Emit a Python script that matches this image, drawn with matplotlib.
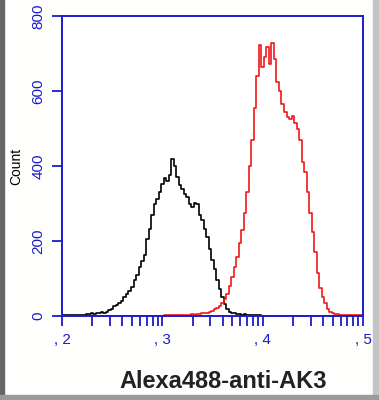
import matplotlib.pyplot as plt
import numpy as np
from matplotlib.patches import Rectangle

plt.rcParams['font.family'] = ['Liberation Sans', 'DejaVu Sans']

# channel positions in decades (log10 of fluorescence), 0.025 decade per channel
channel_log = np.round(np.arange(2.0, 5.0001, 0.025), 3)

# isotype / unstained control (black)
control_counts = [
    2, 2, 2, 2, 2, 2, 3, 2, 3, 4,
    5, 6, 8, 6, 9, 7, 11, 8, 10, 16,
    20, 26, 30, 34, 40, 52, 60, 68, 78, 95,
    110, 132, 148, 162, 205, 232, 270, 298, 312, 330,
    352, 368, 360, 375, 420, 400, 372, 350, 338, 325,
    318, 300, 290, 302, 298, 270, 255, 232, 210, 180,
    150, 125, 95, 72, 50, 32, 18, 11, 8, 9,
    6, 5, 4, 5, 3, 3, 2, 2, 2, 2,
    1, 1, 1, 1, 1, 1, 1, 1, 0, 0,
    0, 0, 0, 0, 0, 0, 0, 0, 0, 0,
    0, 0, 0, 0, 0, 0, 0, 0, 0, 0,
    0, 0, 0, 0, 0, 0, 0, 0, 0, 0,
    0,
]

# Alexa488-anti-AK3 stained (red)
stained_counts = [
    0, 0, 0, 0, 0, 0, 0, 0, 0, 0,
    0, 0, 0, 0, 0, 0, 0, 0, 0, 0,
    0, 0, 0, 0, 0, 0, 0, 0, 0, 0,
    0, 0, 0, 0, 0, 0, 1, 1, 1, 1,
    1, 2, 2, 3, 3, 2, 3, 3, 4, 3,
    4, 4, 5, 4, 5, 6, 7, 8, 9, 11,
    14, 18, 22, 27, 35, 45, 60, 80, 104, 130,
    157, 195, 229, 275, 330, 400, 469, 555, 640, 723,
    665, 690, 717, 672, 728, 685, 625, 600, 565, 545,
    532, 525, 534, 515, 500, 470, 412, 385, 330, 275,
    225, 170, 115, 75, 52, 35, 18, 11, 8, 6,
    5, 4, 4, 3, 3, 3, 2, 3, 2, 2,
    2,
]

y_ticks = [0, 200, 400, 600, 800]
x_ticks = [1e2, 1e3, 1e4, 1e5]
x_tick_labels = [', 2', ', 3', ', 4', ', 5']

blue = '#1c1ccc'

fig = plt.figure(figsize=(3.79, 4.0), dpi=100)
fig.patch.set_facecolor('#fefefc')
ax = fig.add_axes([62 / 379, 1 - 316 / 400, 301 / 379, 300 / 400])

x = 10 ** channel_log
ax.step(x, control_counts, where='mid', color='black', lw=1.2)
ax.step(x, stained_counts, where='mid', color='#f01818', lw=1.2)

ax.set_xscale('log')
ax.set_xlim(1e2, 1e5)
ax.set_ylim(0, 800)
ax.set_yticks(y_ticks)
ax.set_yticklabels([str(v) for v in y_ticks], rotation=90, va='center')
ax.set_xticks(x_ticks)
ax.set_xticklabels(x_tick_labels)

for s in ax.spines.values():
    s.set_color(blue)
    s.set_linewidth(1.4)
ax.tick_params(axis='both', which='both', direction='out', color=blue,
               labelcolor=blue, width=1.3, labelsize=11)
ax.tick_params(axis='y', length=7, pad=5)
ax.tick_params(axis='x', which='major', length=7, pad=5)
ax.tick_params(axis='x', which='minor', length=7)
ax.xaxis.set_minor_formatter(plt.NullFormatter())

ax.set_ylabel('Count', fontsize=10, labelpad=6)
fig.text(223 / 379, 1 - 382 / 400, 'Alexa488-anti-AK3', fontsize=17,
         fontweight='bold', color='#222222', ha='center', va='center')

# grey window frame
fig.patches.append(Rectangle((0, 0), 4 / 379, 1, transform=fig.transFigure,
                             color='#666666', zorder=5))
fig.patches.append(Rectangle((373 / 379, 0), 6 / 379, 1, transform=fig.transFigure,
                             color='#c4c4c4', zorder=5))
fig.patches.append(Rectangle((0, 0), 1, 5 / 400, transform=fig.transFigure,
                             color='#9a9a9a', zorder=5))

fig.savefig('out.png', dpi=100)
